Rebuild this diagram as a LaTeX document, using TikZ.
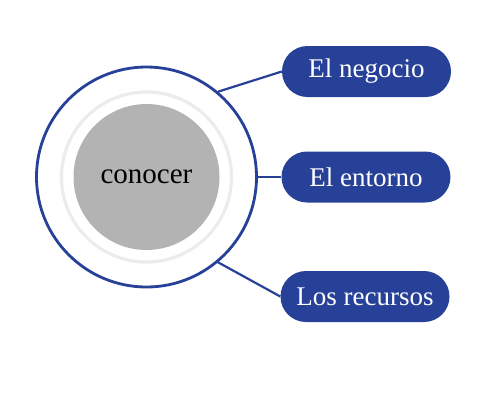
\documentclass[tikz,border=0pt]{standalone}
\usepackage{fontspec}
\setmainfont{Liberation Serif}
\definecolor{navy}{RGB}{39,64,152}
\definecolor{ringgray}{RGB}{236,236,238}
\definecolor{fillgray}{RGB}{179,179,179}
\begin{document}
\begin{tikzpicture}[x=1pt,y=-1pt,
  pill/.style={draw=none,fill=navy,rounded corners=25.5pt,minimum width=169pt,minimum height=51pt,
    text=white,font=\fontsize{27}{30}\selectfont,inner sep=0pt},
  conn/.style={draw=navy,line width=2.2pt}]
\useasboundingbox (0,0) rectangle (498,400);
\coordinate (c) at (146.5,177);
\node[circle,draw=navy,line width=2.8pt,minimum size=220pt,inner sep=0pt] (outer) at (c) {};
\node[circle,draw=ringgray,line width=3.2pt,minimum size=170pt,inner sep=0pt] (ring) at (c) {};
\node[circle,fill=fillgray,minimum size=146pt,inner sep=0pt,font=\fontsize{29}{32}\selectfont] (core) at (c) {conocer};
\node[pill] (p1) at (366.5,71.5) {El negocio};
\node[pill] (p2) at (366,177) {El entorno};
\node[pill] (p3) at (365,296.5) {Los recursos};
\draw[conn] (outer.50) -- (p1.west);
\draw[conn] (outer.east) -- (p2.west);
\draw[conn] (outer.-50) -- (p3.west);
\end{tikzpicture}
\end{document}
